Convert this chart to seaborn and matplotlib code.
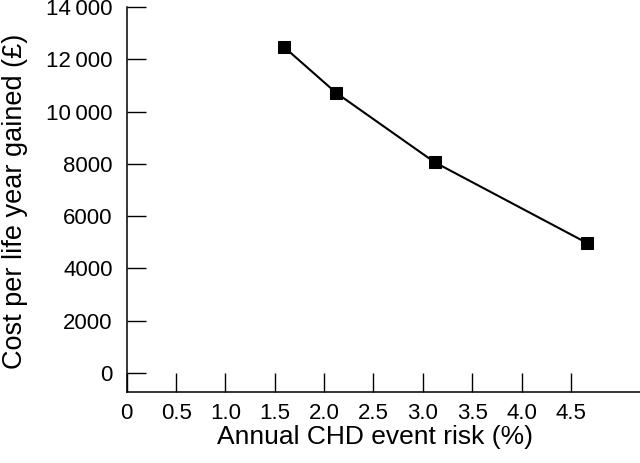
import matplotlib
matplotlib.use('Agg')
import matplotlib.pyplot as plt
import seaborn as sns
import pandas as pd

# values
risk = [1.59, 2.12, 3.12, 4.66]
cost = [12480, 10720, 8060, 4980]

x_ticks = [0, 0.5, 1.0, 1.5, 2.0, 2.5, 3.0, 3.5, 4.0, 4.5]
x_labels = ['0', '0.5', '1.0', '1.5', '2.0', '2.5', '3.0', '3.5', '4.0', '4.5']
y_ticks = [0, 2000, 4000, 6000, 8000, 10000, 12000, 14000]
y_labels = ['0', '2000', '4000', '6000', '8000', '10\u2009000', '12\u2009000', '14\u2009000']

df = pd.DataFrame({'risk': risk, 'cost': cost})

sns.set_style('ticks')
plt.rcParams['font.family'] = ['Liberation Sans', 'DejaVu Sans']
plt.rcParams['axes.labelcolor'] = 'black'

fig = plt.figure(figsize=(6.4, 4.63), dpi=100)
ax = fig.add_axes([0.198, 0.153, 0.802, 0.832])

sns.lineplot(data=df, x='risk', y='cost', marker='s', markersize=9,
             color='black', linewidth=1.5, markeredgecolor='black', ax=ax)

ax.set_xlim(0, 5.2)
ax.set_ylim(-730, 14000)
ax.set_xticks(x_ticks)
ax.set_xticklabels(x_labels)
ax.set_yticks(y_ticks)
ax.set_yticklabels(y_labels)

ax.tick_params(direction='in', length=14, width=1, labelsize=16, colors='black', pad=10)
ax.tick_params(axis='x', pad=8)
for s in ['top', 'right']:
    ax.spines[s].set_visible(False)
for s in ['left', 'bottom']:
    ax.spines[s].set_linewidth(1.1)
    ax.spines[s].set_color('black')

ax.set_xlabel('Annual CHD event risk (%)', fontsize=19, va='center', color='black')
ax.set_ylabel('Cost per life year gained (£)', fontsize=19.5, va='center', color='black')
ax.xaxis.set_label_coords(0.483, -0.117)
ax.yaxis.set_label_coords(-0.218, 0.494)

fig.savefig('out.png', dpi=100)
